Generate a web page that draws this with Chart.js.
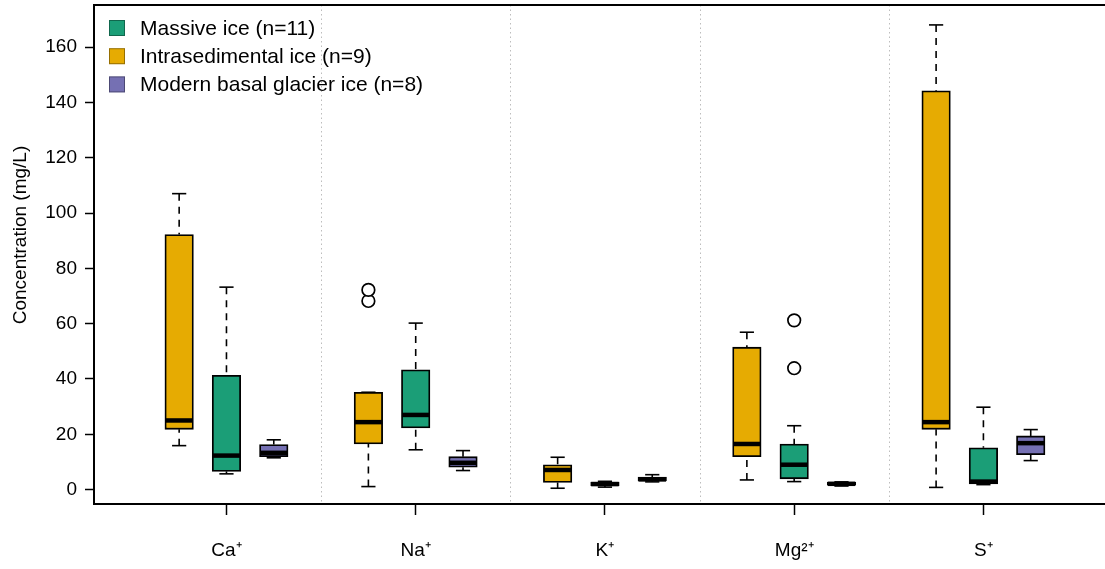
<!DOCTYPE html>
<html><head><meta charset="utf-8">
<script src="https://cdn.jsdelivr.net/npm/chart.js@4/dist/chart.umd.min.js"></script>
<style>html,body{margin:0;padding:0;background:#fff;overflow:hidden}</style>
</head><body>
<canvas id="c" width="1105" height="569"></canvas>
<script>
// ---- data ----
const categories = ['Ca⁺', 'Na⁺', 'K⁺', 'Mg²⁺', 'S⁺'];
const seriesNames = ['Massive ice (n=11)', 'Intrasedimental ice (n=9)', 'Modern basal glacier ice (n=8)'];
// [lower whisker, Q1, median, Q3, upper whisker] for each category
const massive = [
  [5.7, 6.6, 12.3, 41.3, 73.2],
  [14.4, 22.3, 27.0, 43.3, 60.2],
  [0.9, 1.4, 2.0, 2.7, 3.0],
  [2.9, 3.9, 9.0, 16.5, 23.1],
  [1.8, 2.1, 2.9, 15.1, 29.8]
];
const intrasedimental = [
  [15.9, 21.8, 25.0, 92.2, 107.0],
  [1.1, 16.5, 24.4, 35.2, 35.2],
  [0.5, 2.6, 7.1, 9.0, 11.7],
  [3.5, 11.9, 16.5, 51.5, 56.9],
  [0.8, 21.8, 24.4, 144.2, 168.0]
];
const modernBasal = [
  [11.5, 11.9, 13.3, 16.3, 18.0],
  [6.9, 8.1, 9.7, 11.9, 14.1],
  [2.8, 3.1, 3.7, 4.5, 5.4],
  [1.3, 1.6, 2.1, 2.6, 2.8],
  [10.5, 12.6, 16.8, 19.4, 21.7]
];
const massiveOutliers = [[], [], [], [43.9, 61.2], []];
const intrasedimentalOutliers = [[], [68.2, 72.2], [], [], []];
const modernBasalOutliers = [[], [], [], [], []];
const yTicks = [0, 20, 40, 60, 80, 100, 120, 140, 160];

// ---- styling ----
const seriesColors = ['#1B9E77', '#E6AB02', '#7570B3'];
const seriesSlot = [2, 1, 3];         // slot inside a group of 4 units
const groupSpan = 4;
const FONT = '"Liberation Sans", Arial, Helvetica, sans-serif';
const stats = [massive, intrasedimental, modernBasal];
const outliers = [massiveOutliers, intrasedimentalOutliers, modernBasalOutliers];
const BOX_W = 28.5, CAP_W = 14.2;

function seg(ctx, x1, y1, x2, y2) { ctx.beginPath(); ctx.moveTo(x1, y1); ctx.lineTo(x2, y2); ctx.stroke(); }

const boxExtras = {
  id: 'boxExtras',
  beforeDatasetsDraw(chart) {
    const { ctx, chartArea: a, scales: { x } } = chart;
    ctx.save();
    ctx.strokeStyle = '#bdbdbd'; ctx.lineWidth = 1; ctx.setLineDash([1.5, 3]);
    for (let g = 1; g < categories.length; g++) {
      const px = Math.round(x.getPixelForValue(g * groupSpan)) + 0.5;
      seg(ctx, px, a.top, px, a.bottom);
    }
    ctx.restore();
  },
  afterDatasetsDraw(chart) {
    const { ctx, scales: { x, y } } = chart;
    ctx.save();
    ctx.strokeStyle = '#000'; ctx.lineCap = 'butt';
    stats.forEach((arr, s) => {
      arr.forEach((st, g) => {
        const cx = x.getPixelForValue(g * groupSpan + seriesSlot[s]);
        const [lo, q1, med, q3, hi] = st.map(v => y.getPixelForValue(v));
        ctx.lineWidth = 1.6;
        ctx.setLineDash([7, 6]);
        if (hi < q3 - 0.5) seg(ctx, cx, hi, cx, q3);
        if (lo > q1 + 0.5) seg(ctx, cx, lo, cx, q1);
        ctx.setLineDash([]);
        seg(ctx, cx - CAP_W / 2, hi, cx + CAP_W / 2, hi);
        seg(ctx, cx - CAP_W / 2, lo, cx + CAP_W / 2, lo);
        ctx.lineWidth = 4.5;
        seg(ctx, cx - BOX_W / 2 + 0.5, med, cx + BOX_W / 2 - 0.5, med);
        ctx.lineWidth = 1.7;
        outliers[s][g].forEach(v => {
          ctx.beginPath();
          ctx.arc(cx, y.getPixelForValue(v), 6.3, 0, Math.PI * 2);
          ctx.fillStyle = '#fff'; ctx.fill(); ctx.stroke();
        });
      });
    });
    ctx.restore();
  },
  afterDraw(chart) {
    const { ctx, chartArea: a } = chart;
    ctx.save();
    // top frame line
    ctx.strokeStyle = '#000'; ctx.lineWidth = 2;
    seg(ctx, a.left - 1, a.top, a.right, a.top);
    // legend
    ctx.font = '21px ' + FONT; ctx.textBaseline = 'middle'; ctx.textAlign = 'left';
    [0, 1, 2].forEach((s, i) => {
      const cy = 28 + i * 28.2;
      ctx.fillStyle = seriesColors[s];
      ctx.fillRect(109, cy - 8, 16, 16);
      ctx.strokeStyle = 'rgba(0,0,0,0.35)'; ctx.lineWidth = 1;
      ctx.strokeRect(109.5, cy - 7.5, 15, 15);
      ctx.fillStyle = '#000';
      ctx.fillText(seriesNames[s], 140, cy + 1);
    });
    // y title
    ctx.translate(21, 235); ctx.rotate(-Math.PI / 2);
    ctx.textAlign = 'center'; ctx.font = '19px ' + FONT;
    ctx.fillText('Concentration (mg/L)', 0, 0);
    ctx.restore();
  }
};

new Chart(document.getElementById('c'), {
  type: 'bar',
  data: {
    datasets: stats.map((arr, s) => ({
      label: seriesNames[s],
      data: arr.map((st, g) => ({ x: g * groupSpan + seriesSlot[s], y: [st[1], st[3]] })),
      backgroundColor: seriesColors[s],
      borderColor: '#000', borderWidth: 1.8, borderSkipped: false,
      barThickness: BOX_W, grouped: false
    }))
  },
  options: {
    responsive: false, animation: false, devicePixelRatio: 1,
    layout: { padding: { top: 5, left: 0, right: 0, bottom: 0 } },
    plugins: { legend: { display: false }, tooltip: { enabled: false } },
    scales: {
      x: {
        type: 'linear', min: -0.8, max: 20.57, offset: false,
        afterBuildTicks(ax) { ax.ticks = categories.map((c, g) => ({ value: g * groupSpan + 2 })); },
        afterFit(ax) { ax.height = 65; },
        ticks: { callback: (v, i) => categories[i], font: { size: 19, family: FONT }, color: '#000', padding: 24, maxRotation: 0, autoSkip: false },
        grid: { drawOnChartArea: false, tickLength: 11, tickColor: '#000', tickWidth: 1.5, offset: false },
        border: { color: '#000', width: 2 }
      },
      y: {
        min: -5.2, max: 175.2,
        afterBuildTicks(ax) { ax.ticks = yTicks.map(v => ({ value: v })); },
        afterFit(ax) { ax.width = 94; ax.paddingTop = 0; ax.paddingBottom = 0; },
        ticks: { font: { size: 19, family: FONT }, color: '#000', padding: 8 },
        grid: { drawOnChartArea: false, tickLength: 9, tickColor: '#000', tickWidth: 1.5 },
        border: { color: '#000', width: 2 }
      }
    }
  },
  plugins: [boxExtras]
});
</script>
</body></html>
